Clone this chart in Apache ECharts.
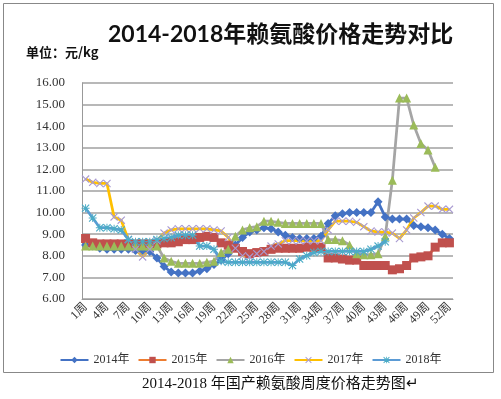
<!DOCTYPE html>
<html>
<head>
<meta charset="utf-8">
<script src="https://cdn.jsdelivr.net/npm/echarts@6/dist/echarts.min.js"></script>
<style>
  html, body { margin: 0; padding: 0; background: #fff; }
  #main { width: 501px; height: 399px; }
</style>
</head>
<body>
<div id="main"></div>
<script>
var weeks = ['1周', '2周', '3周', '4周', '5周', '6周', '7周', '8周', '9周', '10周',
  '11周', '12周', '13周', '14周', '15周', '16周', '17周', '18周', '19周', '20周',
  '21周', '22周', '23周', '24周', '25周', '26周', '27周', '28周', '29周', '30周',
  '31周', '32周', '33周', '34周', '35周', '36周', '37周', '38周', '39周', '40周',
  '41周', '42周', '43周', '44周', '45周', '46周', '47周', '48周', '49周', '50周',
  '51周', '52周'];

var yAxisTicks = [6, 7, 8, 9, 10, 11, 12, 13, 14, 15, 16];

var y2014 = [8.5, 8.45, 8.35, 8.3, 8.3, 8.3, 8.3, 8.25, 8.25, 8.2,
  7.9, 7.5, 7.25, 7.2, 7.2, 7.2, 7.3, 7.4, 7.6, 7.8,
  8.1, 8.5, 8.85, 9.1, 9.2, 9.3, 9.25, 9.1, 8.95, 8.85,
  8.8, 8.8, 8.8, 8.9, 9.5, 9.85, 9.95, 10.0, 10.0, 10.0,
  10.0, 10.5, 9.8, 9.7, 9.7, 9.7, 9.4, 9.35, 9.3, 9.2,
  9.0, 8.8];
var y2015 = [8.8, 8.6, 8.55, 8.55, 8.55, 8.55, 8.55, 8.55, 8.55, 8.55,
  8.55, 8.6, 8.6, 8.65, 8.75, 8.75, 8.85, 8.9, 8.85, 8.6,
  8.5, 8.35, 8.2, 8.1, 8.15, 8.2, 8.3, 8.35, 8.35, 8.35,
  8.35, 8.4, 8.4, 8.4, 7.9, 7.9, 7.85, 7.8, 7.8, 7.55,
  7.55, 7.55, 7.55, 7.35, 7.4, 7.55, 7.9, 7.95, 8.0, 8.4,
  8.6, 8.6];
var y2016 = [8.45, 8.45, 8.45, 8.45, 8.45, 8.45, 8.45, 8.45, 8.45, 8.45,
  8.45, 7.9, 7.75, 7.65, 7.65, 7.65, 7.65, 7.7, 7.75, 8.15,
  8.3, 8.9, 9.2, 9.3, 9.35, 9.6, 9.6, 9.55, 9.5, 9.5,
  9.5, 9.5, 9.5, 9.5, 8.75, 8.75, 8.7, 8.5, 8.1, 8.05,
  8.05, 8.1, 8.9, 11.5, 15.3, 15.3, 14.05, 13.2, 12.9, 12.1];
var y2017 = [11.55, 11.4, 11.35, 11.35, 9.8, 9.65, 8.75, 8.3, 7.95, 8.3,
  8.7, 9.05, 9.2, 9.25, 9.25, 9.25, 9.25, 9.25, 9.2, 9.15,
  8.85, 8.35, 8.0, 7.95, 8.1, 8.2, 8.45, 8.55, 8.7, 8.7,
  8.7, 8.7, 8.7, 8.7, 9.2, 9.6, 9.6, 9.6, 9.55, 9.35,
  9.15, 9.1, 9.1, 9.05, 8.8, 9.2, 9.75, 10.0, 10.3, 10.3,
  10.15, 10.15];
var y2018 = [10.2, 9.75, 9.3, 9.3, 9.25, 9.2, 8.75, 8.65, 8.65, 8.65,
  8.75, 8.8, 8.85, 8.95, 8.95, 8.95, 8.45, 8.45, 8.3, 7.75,
  7.7, 7.7, 7.7, 7.7, 7.7, 7.7, 7.7, 7.7, 7.7, 7.55,
  7.85, 8.0, 8.15, 8.2, 8.2, 8.2, 8.2, 8.2, 8.2, 8.2,
  8.3, 8.45, 8.65];

// excel style markers
var crossPath = 'path://M1,0L5,4L9,0L10,1L6,5L10,9L9,10L5,6L1,10L0,9L4,5L0,1Z';
var starPath = 'path://M1,0L5,4L9,0L10,1L6,5L10,9L9,10L5,6L1,10L0,9L4,5L0,1ZM4.4,0H5.6V10H4.4ZM0,4.4H10V5.6H0Z';

var serifFont = "'Liberation Serif', 'Noto Sans CJK SC', serif";

function makeSeries(name, data, lineColor, markColor, symbol, size) {
  return {
    name: name,
    type: 'line',
    data: data,
    symbol: symbol,
    symbolSize: size,
    showAllSymbol: true,
    animation: false,
    lineStyle: { color: lineColor, width: 2.75 },
    itemStyle: { color: markColor }
  };
}

var myChart = echarts.init(document.getElementById('main'));
var option = {
  backgroundColor: '#fff',
  title: [{
    text: '2014-2018年赖氨酸价格走势对比',
    left: 103,
    top: 18,
    textStyle: { fontSize: 23, fontWeight: 'bold', color: '#111', fontFamily: "Lato, 'Noto Sans CJK SC', sans-serif" }
  }, {
    text: '单位：元/kg',
    left: 21,
    top: 41,
    textStyle: { fontSize: 13, fontWeight: 'bold', color: '#111', fontFamily: "'Noto Sans CJK SC', sans-serif" }
  }],
  grid: { left: 82, top: 83, right: 48, bottom: 100 },
  legend: {
    top: 349,
    left: 'center',
    itemWidth: 28,
    itemHeight: 8,
    itemGap: 8,
    textStyle: { fontSize: 12, color: '#333', fontFamily: serifFont },
    data: ['2014年', '2015年', '2016年', '2017年', '2018年']
  },
  xAxis: {
    type: 'category',
    data: weeks,
    boundaryGap: true,
    axisLine: { lineStyle: { color: '#999', width: 1 } },
    axisTick: { show: false },
    axisLabel: { interval: 2, rotate: 45, fontSize: 12, color: '#333', fontFamily: serifFont, margin: 6 }
  },
  yAxis: {
    type: 'value',
    min: yAxisTicks[0],
    max: yAxisTicks[yAxisTicks.length - 1],
    interval: 1,
    axisLine: { show: true, lineStyle: { color: '#999', width: 1 } },
    axisTick: { show: false },
    splitLine: { lineStyle: { color: '#a0a0a0', width: 1.5 } },
    axisLabel: {
      fontSize: 13, color: '#333', fontFamily: serifFont, margin: 17,
      formatter: function (v) { return v.toFixed(2); }
    }
  },
  series: [
    makeSeries('2014年', y2014, '#4472C4', '#4472C4', 'diamond', 9),
    makeSeries('2015年', y2015, '#ED7D31', '#C0504D', 'rect', 9),
    makeSeries('2016年', y2016, '#A5A5A5', '#9BBB59', 'triangle', 9),
    makeSeries('2017年', y2017, '#FFC000', '#A99BD1', crossPath, 8),
    makeSeries('2018年', y2018, '#5B9BD5', '#4BACC6', starPath, 8)
  ],
  graphic: [{
    type: 'rect',
    shape: { x: 3.5, y: 3.5, width: 490, height: 369 },
    style: { fill: 'none', stroke: '#888', lineWidth: 1 },
    silent: true
  }, {
    type: 'text',
    left: 142,
    top: 377,
    style: { text: '2014-2018 年国产赖氨酸周度价格走势图↵', fontSize: 15, fill: '#111', fontFamily: "'Liberation Serif', 'Noto Sans CJK SC', serif" }
  }]
};
myChart.setOption(option);
</script>
</body>
</html>
